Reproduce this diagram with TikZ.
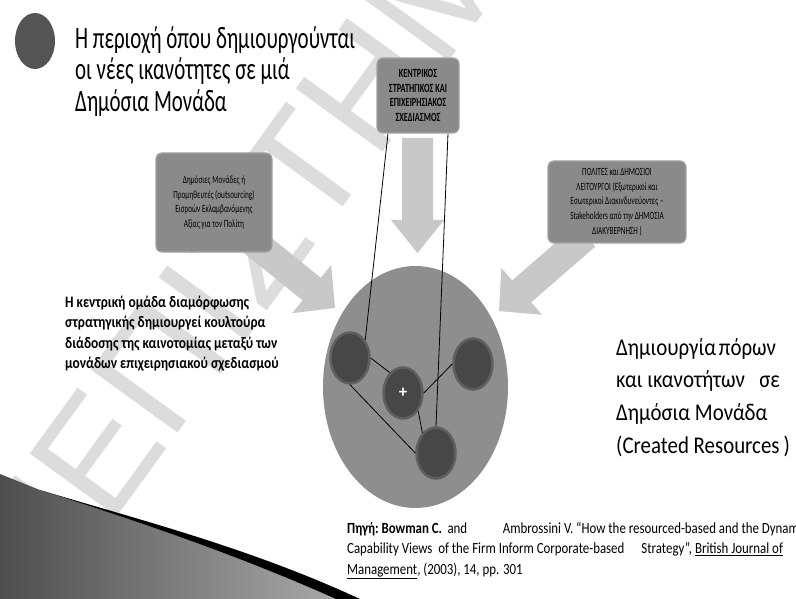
\documentclass[tikz,border=0pt]{standalone}
\usepackage{fontspec}
\setmainfont{Carlito}
\newfontfamily\headfont{Carlito}[FakeStretch=0.675]
\newfontfamily\slimfont{Carlito}[FakeStretch=0.84]
\newfontfamily\widefont{Carlito}[FakeStretch=0.87]
\newfontfamily\notefont{Carlito}[FakeStretch=0.83]
\newfontfamily\boxfont{Carlito}[FakeStretch=0.66]
\newfontfamily\markfont{Liberation Sans}
\usetikzlibrary{shapes.geometric}

\pgfdeclarelayer{base}
\pgfdeclarelayer{wires}
\pgfsetlayers{base,wires,main}

\definecolor{boxgray}{HTML}{8A8A8A}
\definecolor{boxrim}{HTML}{A4A4A4}
\definecolor{arrowgray}{HTML}{C8C8C8}
\definecolor{discgray}{HTML}{8E8E8E}
\definecolor{dotgray}{HTML}{474747}
\definecolor{dotrim}{HTML}{5F5F5F}
\definecolor{bulletgray}{HTML}{545454}
\definecolor{markgray}{HTML}{DCDCDC}
\definecolor{wedgedark}{HTML}{4E4E4E}
\definecolor{wedgelight}{HTML}{A8A8A8}

\tikzset{
  infobox/.style={draw=boxrim, line width=1.2pt, fill=boxgray, rounded corners=6pt,
    inner sep=0pt, align=center, text=black},
  dot/.style={ellipse, fill=dotgray, draw=dotrim, line width=2.5pt,
    minimum width=39pt, minimum height=51pt, inner sep=0pt},
  link/.style={draw=black, line width=0.8pt},
  pics/blockarrow/.style n args={4}{code={
    % #1 length, #2 shaft width, #3 head width, #4 head length
    \fill[arrowgray] (0,-#2/2) -- ({#1-#4},-#2/2) -- ({#1-#4},-#3/2) -- (#1,0)
      -- ({#1-#4},#3/2) -- ({#1-#4},#2/2) -- (0,#2/2) -- cycle;
  }},
}

\begin{document}
\begin{tikzpicture}[x=1pt,y=-1pt]
\useasboundingbox (0,0) rectangle (796,599);
\clip (0,0) rectangle (796,599);

\begin{pgfonlayer}{base}
\fill[white] (0,0) rectangle (796,599);

% watermark
\node[rotate=54, font=\markfont\fontsize{156}{156}\selectfont, text=markgray]
  (mark) at (222,282) {ΠΑΝΕΠΙΣΤΗΜΙΟ};

% theme wedge in the lower left corner
\shade[left color=wedgedark, right color=wedgelight]
  (0,474) -- (40,490) .. controls (140,522) and (240,556) .. (336,599) -- (0,599) -- cycle;
\fill[black]
  (40,490) .. controls (140,520) and (250,548) .. (360,599) -- (336,599)
  .. controls (240,556) and (140,522) .. (40,490) -- cycle;

% the unit and its capabilities
\node[ellipse, fill=discgray, minimum width=185pt, minimum height=242pt, inner sep=0pt]
  (disc) at (415.5,387) {};
\node[dot] (A) at (350,358) {};
\node[dot, text=white, font=\bfseries\fontsize{17}{17}\selectfont] (B) at (403,393) {+};
\node[dot] (C) at (473,364) {};
\node[dot] (D) at (436,453) {};

% inflow arrows
\coordinate (ltip) at (335,308);
\coordinate (dtip) at (417.5,253);
\coordinate (rtip) at (499,311);
\pic[rotate=-39] at ([shift={(-89.4,-72.4)}]ltip) {blockarrow={115}{29}{62}{30}};
\pic[rotate=-90] at ([shift={(0,-115)}]dtip) {blockarrow={115}{31}{53}{33}};
\pic[rotate=-139] at ([shift={(86.8,-75.4)}]rtip) {blockarrow={115}{29}{62}{30}};
\end{pgfonlayer}

% bullet and heading
\node[ellipse, fill=bulletgray, minimum width=40pt, minimum height=56pt, inner sep=0pt]
  (bullet) at (35,41) {};
\node[anchor=north west, inner sep=0pt, align=left,
  font=\headfont\fontsize{31}{31.5}\selectfont] (title) at (75,26)
  {Η περιοχή όπου δημιουργούνται\\οι νέες ικανότητες σε μιά\\Δημόσια Μονάδα};

% source boxes
\node[infobox, minimum width=82pt, minimum height=75pt,
  font=\boxfont\bfseries\fontsize{12.5}{14.7}\selectfont] (plan) at (418,95.5)
  {ΚΕΝΤΡΙΚΟΣ\\ΣΤΡΑΤΗΓΙΚΟΣ ΚΑΙ\\ΕΠΙΧΕΙΡΗΣΙΑΚΟΣ\\ΣΧΕΔΙΑΣΜΟΣ};
\node[infobox, minimum width=116pt, minimum height=99pt,
  font=\boxfont\fontsize{11}{14.5}\selectfont] (supply) at (214,202.5)
  {Δημόσιες Μονάδες ή\\Προμηθευτές (outsourcing)\\Εισροών Εκλαμβανόμενης\\Αξίας για τον Πολίτη};
\node[infobox, minimum width=138pt, minimum height=82pt,
  font=\boxfont\fontsize{11}{14.7}\selectfont] (citizens) at (617,202)
  {ΠΟΛΙΤΕΣ και ΔΗΜΟΣΙΟΙ\\ΛΕΙΤΟΥΡΓΟΙ (Εξωτερικοί και\\Εσωτερικοί Διακινδυνεύοντες –\\Stakeholders από την ΔΗΜΟΣΙΑ\\ΔΙΑΚΥΒΕΡΝΗΣΗ )};

% links between planning and the capabilities
\begin{pgfonlayer}{wires}
\draw[link] ([xshift=-30pt]plan.south) -- (A.50);
\draw[link] ([xshift=30pt]plan.south) -- (D.north);
\draw[link] (A.east) -- (B.123);
\draw[link] (B.east) -- (C.west);
\draw[link] (B.-50) -- (D.124);
\draw[link] (A.south) -- (D.west);
\end{pgfonlayer}

% side texts
\node[anchor=north west, inner sep=0pt, align=left,
  font=\slimfont\bfseries\fontsize{16}{20.3}\selectfont] (team) at (65,296)
  {Η κεντρική ομάδα διαμόρφωσης\\στρατηγικής δημιουργεί κουλτούρα\\διάδοσης της καινοτομίας μεταξύ των\\μονάδων επιχειρησιακού σχεδιασμού};
\node[anchor=north west, inner sep=0pt, align=left,
  font=\widefont\fontsize{24}{32.7}\selectfont] (created) at (616,338)
  {Δημιουργία\hspace{0.12em}πόρων\\και ικανοτήτων\hspace{0.6em}σε\\Δημόσια Μονάδα\\(Created Resources\,)};
\node[anchor=north west, inner sep=0pt, align=left,
  font=\notefont\fontsize{15.5}{20.5}\selectfont] (source) at (347,522)
  {\textbf{Πηγή:\ Bowman C.}\hspace{0.35em}and\hspace{2.3em}Ambrossini V. “How the resourced-based and the Dynamic\\
   Capability Views\ \ of the Firm Inform Corporate-based\hspace{1.1em}Strategy”, \underline{British Journal of}\\
   \underline{Management}, (2003), 14, pp. 301};
\end{tikzpicture}
\end{document}
